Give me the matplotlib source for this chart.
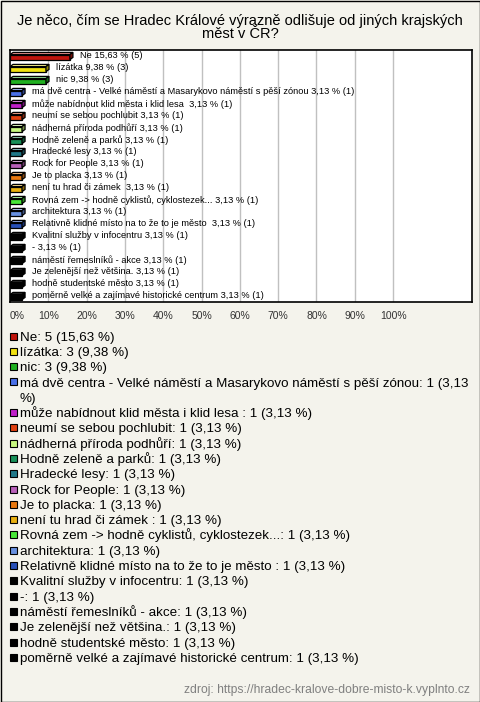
import textwrap
import matplotlib
matplotlib.use('Agg')
import matplotlib.pyplot as plt
from matplotlib.patches import Polygon, Rectangle
from matplotlib.colors import to_rgb

plt.rcParams['font.family'] = ['Liberation Sans', 'DejaVu Sans']

title = ['Je něco, čím se Hradec Králové výrazně odlišuje od jiných krajských', 'měst v ČR?']
source = 'zdroj: https://hradec-kralove-dobre-misto-k.vyplnto.cz'

answers = ['Ne', 'lízátka', 'nic',
           'má dvě centra - Velké náměstí a Masarykovo náměstí s pěší zónou',
           'může nabídnout klid města i klid lesa ', 'neumí se sebou pochlubit',
           'nádherná příroda podhůří', 'Hodně zeleně a parků', 'Hradecké lesy',
           'Rock for People', 'Je to placka', 'není tu hrad či zámek ',
           'Rovná zem -> hodně cyklistů, cyklostezek...', 'architektura',
           'Relativně klidné místo na to že to je město ',
           'Kvalitní služby v infocentru', '-', 'náměstí řemeslníků - akce',
           'Je zelenější než většina.', 'hodně studentské město',
           'poměrně velké a zajímavé historické centrum']
counts = [5, 3, 3] + [1] * 18
percents = [15.63, 9.38, 9.38] + [3.13] * 18
colors = ['#c0140c', '#f0e010', '#20b020', '#4a70e8', '#c020c8', '#e04010',
          '#c8f880', '#189058', '#207888', '#b860b8', '#e87810', '#e8b010',
          '#48e838', '#6890e0', '#2850b8',
          '#000000', '#000000', '#000000', '#000000', '#000000', '#000000']
ticks = [0, 10, 20, 30, 40, 50, 60, 70, 80, 90, 100]

W, H = 480, 702
bg = '#f4f3ec'
fig = plt.figure(figsize=(W / 100, H / 100), dpi=100, facecolor=bg)

# page overlay in pixel coords
page = fig.add_axes([0, 0, 1, 1], zorder=0)
page.set_xlim(0, W)
page.set_ylim(H, 0)
page.axis('off')
page.add_patch(Rectangle((0.5, 0.5), W - 1, H - 1, fill=False, ec='black', lw=1))
for k, t in enumerate(title):
    page.text(240, 24.5 + k * 13.5, t, ha='center', va='baseline', fontsize=10.5)
page.text(470, 692.5, source, ha='right', va='baseline', fontsize=8.7, color='#808080')

# bar chart
ax = fig.add_axes([10 / W, 1 - 302 / H, 462 / W, 252 / H], zorder=1)
ax.set_facecolor('white')
n = len(answers)
ax.set_xlim(0, 120.6)
ax.set_ylim(n - 0.5, -0.5)
for s in ax.spines.values():
    s.set_linewidth(1.2)
    s.set_color('black')
ax.set_yticks([])
ax.set_xticks(ticks)
ax.set_xticklabels([f'{t}%' for t in ticks], fontsize=7.5, color='#333333')
ax.get_xticklabels()[0].set_ha('left')
ax.tick_params(axis='x', length=0, pad=6.5)
for t in ticks[1:]:
    ax.axvline(t, color='#c0c0c0', lw=1, zorder=1)

h, dx, dy = 0.42, 0.8, 0.18
for i, (name, pct, c, col) in enumerate(zip(answers, percents, counts, colors)):
    base = to_rgb(col)
    light = tuple(min(1, v * 0.5 + 0.5) for v in base)
    dark = tuple(v * 0.6 for v in base)
    if col == '#000000':
        light = (0.15, 0.15, 0.15)
    bot = i + (h + dy) / 2
    top = bot - h
    ax.add_patch(Polygon([(0, bot), (pct, bot), (pct, top), (0, top)],
                         fc=col, ec='black', lw=0.9, zorder=3))
    ax.add_patch(Polygon([(0, top), (pct, top), (pct + dx, top - dy), (dx, top - dy)],
                         fc=light, ec='black', lw=0.9, zorder=3))
    ax.add_patch(Polygon([(pct, bot), (pct + dx, bot - dy), (pct + dx, top - dy), (pct, top)],
                         fc=dark, ec='black', lw=0.9, zorder=3))
    pct_s = f'{pct:.2f}'.replace('.', ',')
    ax.text(pct + 2.7, i, f'{name} {pct_s} % ({c})', ha='left', va='center',
            fontsize=6.7, zorder=4)

# legend below
y0, step = 336, 15.3
line = 0
for name, pct, c, col in zip(answers, percents, counts, colors):
    pct_s = f'{pct:.2f}'.replace('.', ',')
    parts = textwrap.wrap(f'{name}: {c} ({pct_s} %)', 74)
    y = y0 + line * step
    page.add_patch(Rectangle((9.5, y - 3.5), 7, 7, fc=col, ec='black', lw=0.8))
    for p in parts:
        page.text(20, y0 + line * step + 4.6, p, ha='left', va='baseline', fontsize=9.6)
        line += 1

fig.savefig('out.png', dpi=100, facecolor=bg)
